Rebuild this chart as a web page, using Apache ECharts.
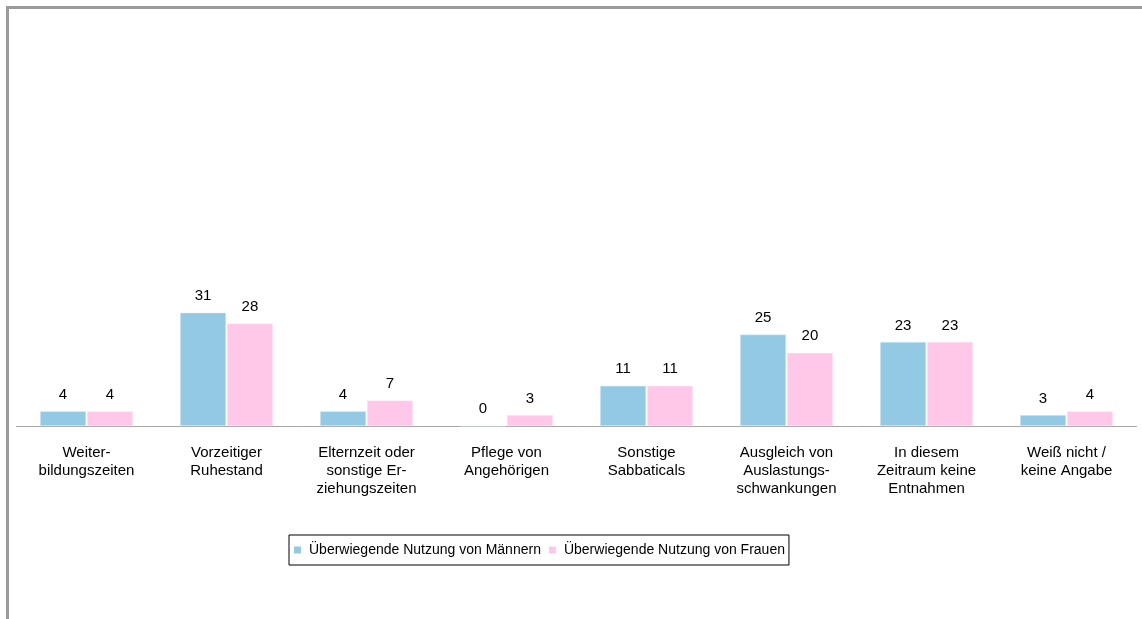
<!DOCTYPE html>
<html lang="de">
<head>
<meta charset="utf-8" />
<title>Entnahmen</title>
<script src="https://cdn.jsdelivr.net/npm/echarts@6/dist/echarts.min.js"></script>
<style>
    html, body { margin: 0; height: 100%; background: #FFFFFF; }
    #chart { width: 1142px; height: 619px; }
</style>
</head>
<body>
<div id="chart"></div>
<script>
var categories = [
    'Weiter-\nbildungszeiten',
    'Vorzeitiger\nRuhestand',
    'Elternzeit oder\nsonstige Er-\nziehungszeiten',
    'Pflege von\nAngehörigen',
    'Sonstige\nSabbaticals',
    'Ausgleich von\nAuslastungs-\nschwankungen',
    'In diesem\nZeitraum keine\nEntnahmen',
    'Weiß nicht /\nkeine Angabe'
]
var maenner = [4, 31, 4, 0, 11, 25, 23, 3]
var frauen = [4, 28, 7, 3, 11, 20, 23, 4]

var font = 'Liberation Sans, Arial, sans-serif'
var chart = echarts.init(document.getElementById('chart'))

chart.setOption({
    animation: false,
    grid: { left: 16.5, right: 5.5, top: 298, bottom: 193, containLabel: false },
    // grey frame on the left and top edge
    graphic: [{
        type: 'polyline',
        shape: { points: [[7.5, 700], [7.5, 7.5], [1200, 7.5]] },
        style: { stroke: '#9B9B9B', lineWidth: 3, fill: null }
    }],
    legend: {
        top: 535,
        left: 289,
        itemWidth: 7,
        itemHeight: 7,
        itemGap: 8,
        padding: [8, 4, 8, 5],
        borderColor: '#000',
        borderWidth: 1,
        borderRadius: 0,
        icon: 'rect',
        itemStyle: { borderWidth: 0 },
        textStyle: { fontFamily: font, fontSize: 14, color: '#000', padding: [0, 0, 0, 3] },
        data: ['Überwiegende Nutzung von Männern', 'Überwiegende Nutzung von Frauen']
    },
    xAxis: {
        type: 'category',
        data: categories,
        axisLine: { lineStyle: { color: '#A6A6A6', width: 1 } },
        axisTick: { show: false },
        axisLabel: {
            interval: 0,
            margin: 18,
            fontFamily: font,
            fontSize: 15,
            lineHeight: 18,
            color: '#000'
        }
    },
    yAxis: {
        type: 'value',
        min: 0,
        max: 35,
        show: false,
        splitLine: { show: false }
    },
    series: [{
        name: 'Überwiegende Nutzung von Männern',
        type: 'bar',
        data: maenner,
        barWidth: 46,
        barGap: '2%',
        itemStyle: { color: '#93C9E3', borderColor: '#E4F1F8', borderWidth: 0.5 },
        label: { show: true, position: 'top', distance: 9, fontFamily: font, fontSize: 15, color: '#000' }
    }, {
        name: 'Überwiegende Nutzung von Frauen',
        type: 'bar',
        data: frauen,
        barWidth: 46,
        itemStyle: { color: '#FFC7E8', borderColor: '#FFEFF8', borderWidth: 0.5 },
        label: { show: true, position: 'top', distance: 9, fontFamily: font, fontSize: 15, color: '#000' }
    }]
})
</script>
</body>
</html>
